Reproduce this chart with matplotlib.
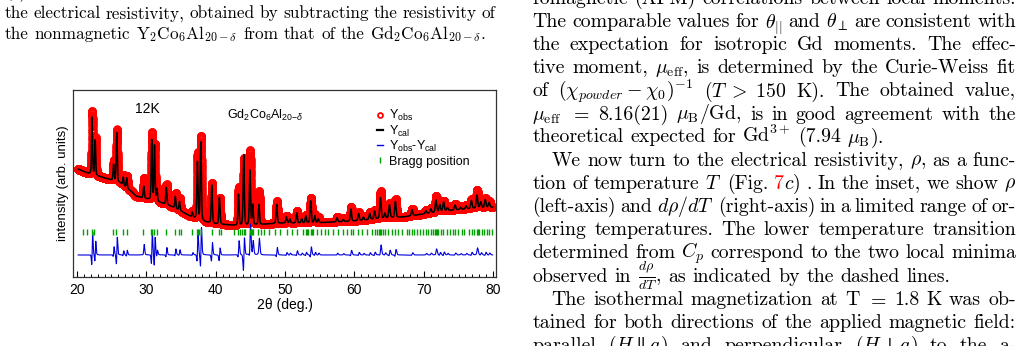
import numpy as np
import matplotlib
matplotlib.use('Agg')
import matplotlib.pyplot as plt
from matplotlib.ticker import MultipleLocator

plt.rcParams['font.family'] = ['Liberation Sans', 'DejaVu Sans']
plt.rcParams['mathtext.fontset'] = 'custom'
plt.rcParams['mathtext.rm'] = 'Liberation Sans'
plt.rcParams['mathtext.it'] = 'Liberation Sans:italic'
plt.rcParams['mathtext.bf'] = 'Liberation Sans:bold'

W, H = 1028, 346

# background knots (2theta, intensity in arb. units)
bg_x = [19.5, 20.5, 21.5, 23.5, 25.0, 26.3, 27.0, 27.8, 28.5, 29.5, 31.8, 33.5, 35.5, 36.5,
        38.5, 40.0, 42.0, 44.0, 47.5, 50.0, 54.0, 57.0, 60.0, 63.0, 67.0, 70.0, 73.0, 76.0, 80.5]
bg_y = [110, 107, 104, 100, 97, 94, 90, 86, 81, 79, 75, 71, 64, 60,
        55, 53, 52, 51, 53, 54, 54, 55, 56, 58, 60, 63, 66, 68, 70]

# reflections: position, calculated height, observed height (above background)
pk_pos = [22.2, 22.65, 25.3, 25.75, 26.7, 27.2, 29.65, 30.8, 31.2, 31.55, 32.9, 34.2, 34.8,
          36.65, 37.38, 37.87, 39.45, 40.55, 43.3, 44.05, 44.95, 45.35, 46.24, 48.8, 50.2,
          50.7, 51.7, 52.4, 53.0, 53.7, 54.3, 54.8, 57.5, 58.4, 59.5, 60.6, 61.3, 62.2, 62.9,
          63.75, 64.4, 65.05, 65.9, 68.3, 70.3, 71.0, 71.75, 72.3, 72.85, 73.4, 74.5, 75.3,
          76.1, 76.85, 77.65, 78.2, 78.85, 79.4]
pk_cal = [57, 35, 16, 49, 8, 10, 12, 60, 55, 12, 17, 12, 9,
          5, 57, 78, 38, 27, 31, 71, 55, 20, 20, 19, 6,
          4, 10, 4, 7, 22, 7, 4, 4, 2, 12, 7, 3, 6, 8,
          21, 5, 13, 16, 6, 3, 4, 12, 7, 9, 3, 5, 2,
          3, 8, 13, 6, 8, 5]
pk_obs = [63, 38, 20, 52, 10, 12, 20, 67, 56, 13, 20, 15, 12,
          6, 66, 84, 40, 26, 38, 67, 74, 30, 33, 22, 7,
          5, 12, 5, 8, 25, 8, 5, 5, 3, 14, 8, 4, 7, 9,
          27, 6, 15, 18, 7, 4, 5, 16, 8, 10, 4, 6, 3,
          4, 9, 18, 7, 9, 6]

bragg = [20.86, 21.44, 22.2, 22.54, 25.18, 25.7, 26.72, 27.2, 29.6, 30.66, 30.85, 31.19, 31.62,
         32.87, 34.16, 34.69, 35.07, 36.66, 37.3, 37.45, 37.67, 37.9, 39.44, 40.45, 40.83,
         42.61, 43.3, 43.45, 43.76, 44.1, 44.3, 44.96, 45.1, 45.25, 45.44, 46.16, 46.55, 46.98,
         47.75, 48.56, 49.28, 50.24, 50.96, 51.78, 52.64, 53.03, 53.2, 53.37, 53.7, 53.9, 54.09,
         54.57, 55.14, 55.77, 56.25, 56.97, 57.69, 58.31, 58.89, 59.46, 59.85, 60.57, 61.05,
         61.77, 62.49, 62.97, 63.3, 63.5, 63.69, 63.9, 64.07, 64.41, 64.89, 65.37, 65.85, 66.33,
         66.81, 67.53, 67.91, 68.25, 68.58, 68.97, 69.45, 69.93, 70.31, 70.65, 70.98, 71.37,
         71.55, 71.75, 71.95, 72.09, 72.43, 72.81, 73.29, 73.77, 74.15, 74.49, 74.97, 75.45,
         75.79, 76.55, 76.89, 77.27, 77.61, 77.8, 77.99, 78.33, 78.67, 79.05, 79.43, 79.87]

xticks = [20, 30, 40, 50, 60, 70, 80]


def pv(x, x0, fw, eta=0.3):
    d = (x - x0) / (fw / 2)
    return eta / (1 + d ** 2) + (1 - eta) * np.exp(-np.log(2) * d ** 2)


tt = np.arange(20.2, 79.92, 0.005)
bg = np.interp(tt, bg_x, bg_y)
y_cal = bg.copy()
y_obs = bg.copy()
for p, hc, ho in zip(pk_pos, pk_cal, pk_obs):
    fw = 0.16 + 0.0015 * (p - 20)
    y_cal += hc * pv(tt, p, fw)
    y_obs += ho * pv(tt, p + 0.035, fw * 1.1)
diff = y_obs - y_cal + 22

fig = plt.figure(figsize=(W / 100, H / 100), dpi=100)
ax = fig.add_axes([73.3 / W, (H - 277) / H, 422.7 / W, 187 / H])

ax.plot(tt, y_obs, 'o', mfc='none', mec='red', ms=5, mew=1.1, zorder=1)
ax.plot(tt, y_cal, '-', color='black', lw=1.1, zorder=3)
ax.plot(tt, diff, '-', color='#0000dd', lw=0.8, zorder=2)
ax.plot(bragg, np.full(len(bragg), 45.0), '|', color='#00a000', ms=4, mew=1)

ax.set_xlim(19.5, 80.4)
ax.set_ylim(0, 187)
ax.set_xticks(xticks)
ax.xaxis.set_minor_locator(MultipleLocator(1))
ax.set_yticks([])
ax.tick_params(axis='x', which='both', direction='in', top=False, labelsize=10, pad=4)
ax.tick_params(axis='x', which='major', length=4, width=0.8)
ax.tick_params(axis='x', which='minor', length=2.5, width=0.7)
for s in ax.spines.values():
    s.set_color('#333333')
    s.set_linewidth(0.9)
ax.set_xlabel('2θ (deg.)', fontsize=10, labelpad=1)
ax.set_ylabel('intensity (arb. units)', fontsize=9.5, labelpad=3)

ax.text(0.146, 0.875, '12K', transform=ax.transAxes, fontsize=10, va='baseline')
ax.text(0.363, 0.843, 'Gd$_2$Co$_6$Al$_{20{-}δ}$', transform=ax.transAxes, fontsize=9,
        va='baseline')

# legend
lx_m, lx_t = 0.7256, 0.7466
rows = [0.843, 0.7615, 0.680, 0.599]
dy = 0.024
ax.plot([lx_m], [rows[0] + dy], 'o', transform=ax.transAxes, mfc='none', mec='red', ms=3.5, mew=1.3)
ax.plot([lx_m - 0.008, lx_m + 0.008], [rows[1] + dy] * 2, '-', color='black', lw=1.6,
        transform=ax.transAxes)
ax.plot([lx_m - 0.008, lx_m + 0.008], [rows[2] + dy] * 2, '-', color='#0000dd', lw=1.0,
        transform=ax.transAxes)
ax.plot([lx_m], [rows[3] + dy], '|', transform=ax.transAxes, color='#00a000', ms=4, mew=1)
labels = ['Y$_{\\rm obs}$', 'Y$_{\\rm cal}$', 'Y$_{\\rm obs}$-Y$_{\\rm cal}$', 'Bragg position']
for r, lab in zip(rows, labels):
    ax.text(lx_t, r, lab, transform=ax.transAxes, fontsize=9, va='baseline')

# surrounding paper text
renderer = fig.canvas.get_renderer()


def text_line(s, x0, x1, yb, size, justify=True):
    words = s.split(' ')
    arts, widths = [], []
    for w in words:
        items, wsum = [], 0
        for k, f in enumerate(w.split('@')):
            if not f:
                continue
            t = fig.text(0, 0, f, fontsize=size, family='cmr10', math_fontfamily='cm',
                         color='red' if k % 2 else 'black', va='baseline')
            bw = t.get_window_extent(renderer).width
            items.append((t, bw))
            wsum += bw
        arts.append(items)
        widths.append(wsum)
    if justify and len(words) > 1:
        gap = (x1 - x0 - sum(widths)) / (len(words) - 1)
    else:
        gap = size * 100 / 72 * 0.333
    x = x0
    for items in arts:
        for t, bw in items:
            t.set_position((x / W, 1 - yb / H))
            x += bw
        x += gap


caption = [
    (-2.7, "(c) Temperature dependence of the magnetic part of the temperature dependent", True),
    (18.3, "the electrical resistivity, obtained by subtracting the resistivity of", True),
    (39.3, "the nonmagnetic Y$_2$Co$_6$Al$_{20-\\delta}$ from that of the Gd$_2$Co$_6$Al$_{20-\\delta}$.", False),
]
for yb, s, j in caption:
    text_line(s, 5, 495, yb, 12.4, j)

body = [
    (4.3, 0, "romagnetic (AFM) correlations between local moments.", True),
    (27.3, 0, "The comparable values for $\\theta_{||}$ and $\\theta_{\\perp}$ are consistent with", True),
    (50.3, 0, "the expectation for isotropic Gd moments. The effec-", True),
    (73.4, 0, "tive moment, $\\mu_{\\mathrm{eff}}$, is determined by the Curie-Weiss fit", True),
    (96.5, 0, "of $(\\chi_{powder}-\\chi_0)^{-1}$ ($T\\;>\\;150$ K). The obtained value,", True),
    (119.5, 0, "$\\mu_{\\mathrm{eff}}$ $=$ 8.16(21) $\\mu_{\\mathrm{B}}$/Gd, is in good agreement with the", True),
    (142.5, 0, "theoretical expected for Gd$^{3+}$ (7.94 $\\mu_{\\mathrm{B}}$).", False),
    (165.6, 19.4, "We now turn to the electrical resistivity, $\\rho$, as a func-", True),
    (188.6, 0, "tion of temperature $T$ (Fig. @7@$c$) . In the inset, we show $\\rho$", True),
    (211.7, 0, "(left-axis) and $d\\rho/dT$ (right-axis) in a limited range of or-", True),
    (234.8, 0, "dering temperatures. The lower temperature transition", True),
    (257.8, 0, "determined from $C_p$ correspond to the two local minima", True),
    (281.5, 0, "observed in $\\frac{d\\rho}{dT}$, as indicated by the dashed lines.", False),
    (305.0, 19.4, "The isothermal magnetization at T $=$ 1.8 K was ob-", True),
    (328.0, 0, "tained for both directions of the applied magnetic field:", True),
    (351.0, 0, "parallel ($H\\parallel{a}$) and perpendicular ($H\\perp{a}$) to the a-", True),
]
for yb, ind, s, j in body:
    text_line(s, 532.3 + ind, 1016, yb, 14.3, j)

fig.savefig('out.png', dpi=100)
